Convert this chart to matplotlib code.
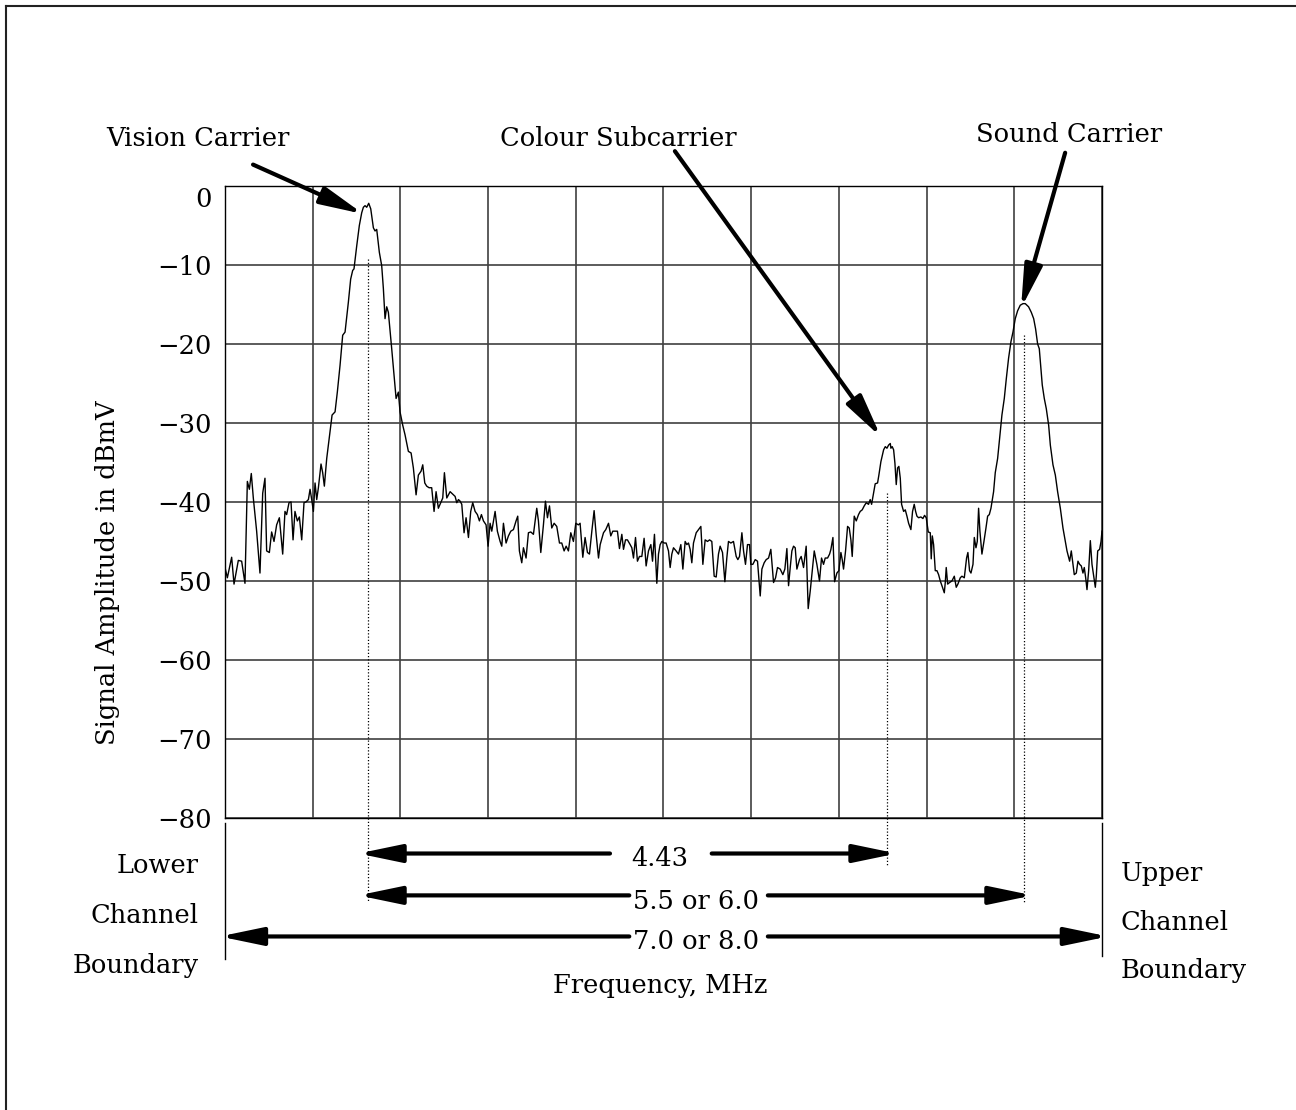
import matplotlib.pyplot as plt
from matplotlib.lines import Line2D
from matplotlib.transforms import ScaledTranslation

# frequency in graticule divisions (0..10 across the channel), amplitude in dBmV
freq1 = [0.000, 0.027, 0.076, 0.103, 0.152, 0.190, 0.228, 0.255, 0.278, 0.300,
         0.323, 0.361, 0.399, 0.430, 0.456, 0.475, 0.506, 0.532, 0.559, 0.589,
         0.620, 0.658, 0.684, 0.703, 0.730, 0.753, 0.776, 0.798, 0.825, 0.848,
         0.875, 0.901, 0.924, 0.951, 0.970, 0.989, 1.008, 1.027, 1.046, 1.065,
         1.095, 1.114, 1.133, 1.160, 1.198, 1.221, 1.255, 1.281, 1.312, 1.342,
         1.369, 1.407, 1.433, 1.456, 1.471, 1.502, 1.532, 1.559, 1.578, 1.597,
         1.616, 1.639, 1.662, 1.692, 1.711, 1.730, 1.760, 1.787, 1.806, 1.825,
         1.844, 1.863, 1.901, 1.951, 1.977, 1.996, 2.027, 2.053, 2.091, 2.122,
         2.148, 2.179, 2.205, 2.236, 2.255, 2.278, 2.300, 2.327, 2.357, 2.384,
         2.407, 2.433, 2.460, 2.483, 2.502, 2.529, 2.567]
amp1 = [-48.3, -49.6, -47.0, -50.4, -47.4, -47.5, -50.3, -37.4, -38.4, -36.4,
        -39.5, -43.7, -49.0, -38.9, -37.0, -46.2, -46.4, -43.8, -45.0, -42.9,
        -42.0, -46.6, -41.2, -41.6, -40.1, -40.0, -44.8, -41.2, -42.4, -41.9,
        -44.8, -40.1, -40.0, -39.7, -38.4, -39.7, -41.2, -37.6, -39.7, -38.2,
        -35.2, -36.3, -38.0, -34.5, -31.1, -29.0, -28.6, -26.1, -22.7, -18.9,
        -18.5, -14.7, -11.8, -10.7, -10.5, -7.6, -5.0, -3.4, -2.7, -2.5,
        -2.7, -2.2, -2.9, -5.3, -5.7, -5.5, -8.4, -10.1, -13.0, -16.8,
        -15.3, -16.0, -20.6, -26.9, -26.1, -28.6, -30.3, -31.5, -33.6, -33.8,
        -35.7, -39.1, -36.6, -36.1, -35.3, -37.6, -38.0, -38.2, -38.2, -41.2,
        -38.7, -40.8, -40.1, -39.5, -36.3, -39.5, -38.7]

freq2 = [2.605, 2.624, 2.643, 2.662, 2.681, 2.700, 2.726, 2.749, 2.776, 2.802,
         2.825, 2.852, 2.878, 2.901, 2.924, 2.947, 2.977, 3.000, 3.023, 3.042,
         3.080, 3.106, 3.137, 3.156, 3.175, 3.205, 3.232, 3.259, 3.289, 3.319,
         3.338, 3.357, 3.384, 3.403, 3.433, 3.460, 3.487, 3.517, 3.555, 3.574,
         3.601, 3.631, 3.654, 3.677, 3.700, 3.726, 3.753, 3.783, 3.814, 3.840,
         3.867, 3.890, 3.916, 3.943, 3.973, 4.000, 4.030, 4.049, 4.080, 4.106,
         4.133, 4.156, 4.183, 4.209, 4.232, 4.259, 4.278, 4.316, 4.342, 4.373,
         4.399, 4.422, 4.449, 4.475, 4.498, 4.525, 4.544, 4.567, 4.589, 4.620,
         4.639, 4.658, 4.681, 4.703, 4.726, 4.753, 4.779, 4.802, 4.829, 4.856,
         4.875, 4.897, 4.924, 4.943, 4.962, 4.981, 5.008, 5.030, 5.057, 5.076]
amp2 = [-39.1, -39.3, -40.1, -39.7, -39.9, -40.3, -43.9, -42.0, -44.5, -41.2,
        -40.1, -41.2, -41.6, -42.4, -41.6, -42.4, -42.9, -45.6, -42.7, -43.7,
        -41.2, -43.7, -45.0, -45.6, -42.7, -45.2, -44.3, -43.7, -43.5, -42.4,
        -41.8, -46.2, -47.7, -45.8, -47.1, -43.9, -43.8, -44.1, -40.8, -42.4,
        -46.4, -42.9, -39.9, -42.0, -40.5, -43.3, -42.7, -43.1, -45.2, -45.2,
        -46.2, -45.6, -46.2, -43.9, -45.0, -42.7, -42.9, -42.7, -47.0, -44.5,
        -46.4, -46.6, -43.7, -41.1, -44.1, -47.1, -45.4, -43.9, -43.5, -42.7,
        -44.3, -43.7, -43.7, -43.7, -45.9, -44.1, -46.0, -44.8, -44.8, -45.4,
        -45.8, -47.1, -44.5, -47.5, -46.9, -46.9, -44.6, -48.1, -46.2, -45.4,
        -47.5, -44.1, -50.3, -46.6, -45.4, -45.0, -45.2, -45.2, -46.2, -48.3]

freq3 = [5.095, 5.114, 5.144, 5.171, 5.198, 5.221, 5.247, 5.266, 5.285, 5.304,
         5.323, 5.342, 5.373, 5.399, 5.426, 5.449, 5.475, 5.502, 5.525, 5.551,
         5.578, 5.601, 5.627, 5.646, 5.673, 5.700, 5.722, 5.741, 5.768, 5.798,
         5.829, 5.848, 5.867, 5.894, 5.913, 5.935, 5.958, 5.981, 5.996, 6.019,
         6.046, 6.072, 6.103, 6.122, 6.148, 6.171, 6.198, 6.224, 6.255, 6.278,
         6.300, 6.331, 6.361, 6.384, 6.407, 6.426, 6.445, 6.464, 6.483, 6.502,
         6.521, 6.551, 6.570, 6.597, 6.627, 6.650, 6.673, 6.692, 6.719, 6.749,
         6.779, 6.802, 6.825, 6.844, 6.871, 6.894, 6.909, 6.932, 6.951, 6.977,
         7.000, 7.023, 7.038, 7.053, 7.076, 7.099, 7.118, 7.137, 7.152, 7.175,
         7.198, 7.224, 7.243, 7.266, 7.289, 7.312, 7.338, 7.357, 7.373, 7.395,
         7.414, 7.441, 7.456, 7.479, 7.510, 7.529, 7.548, 7.567, 7.586]
amp3 = [-46.6, -45.8, -46.2, -46.6, -45.4, -48.5, -45.0, -45.4, -45.2, -46.0,
        -47.7, -45.2, -43.9, -43.5, -43.1, -47.9, -44.8, -45.0, -44.8, -45.0,
        -49.4, -49.5, -46.6, -45.6, -46.4, -50.1, -47.1, -45.0, -45.2, -45.0,
        -46.9, -47.3, -46.9, -43.9, -46.2, -47.9, -45.4, -45.4, -47.9, -47.9,
        -47.3, -47.5, -51.9, -48.5, -47.7, -47.3, -47.1, -46.0, -50.2, -49.6,
        -48.3, -48.5, -49.2, -48.5, -45.9, -50.6, -48.3, -46.2, -45.6, -45.8,
        -48.5, -47.3, -46.9, -48.3, -45.6, -53.5, -51.3, -49.2, -46.2, -47.9,
        -50.0, -47.1, -47.9, -47.1, -47.1, -46.6, -46.0, -44.5, -50.1, -49.0,
        -48.7, -46.4, -47.3, -48.5, -46.2, -43.1, -43.3, -44.8, -46.9, -41.8,
        -42.4, -41.6, -41.2, -41.0, -40.5, -40.1, -40.3, -39.7, -40.3, -38.9,
        -37.7, -37.6, -36.6, -34.9, -33.4, -33.0, -33.2, -32.8, -32.6]

freq4 = [7.593, 7.608, 7.624, 7.639, 7.654, 7.669, 7.684, 7.700, 7.715, 7.738,
         7.757, 7.776, 7.795, 7.821, 7.840, 7.859, 7.875, 7.890, 7.909, 7.935,
         7.958, 7.977, 7.996, 8.019, 8.042, 8.053, 8.065, 8.080, 8.099, 8.118,
         8.137, 8.156, 8.175, 8.202, 8.213, 8.224, 8.240, 8.262, 8.289, 8.316,
         8.338, 8.357, 8.384, 8.403, 8.430, 8.456, 8.471, 8.490, 8.506, 8.529,
         8.544, 8.563, 8.578, 8.593, 8.608, 8.631, 8.654, 8.677, 8.696, 8.715,
         8.734, 8.764, 8.783, 8.810, 8.840, 8.859, 8.886, 8.909, 8.935, 8.962,
         8.985, 9.011, 9.038, 9.068, 9.099, 9.125, 9.163, 9.194, 9.221, 9.243,
         9.266, 9.285, 9.304, 9.319, 9.342, 9.365, 9.392, 9.411, 9.441, 9.468,
         9.494, 9.525, 9.555, 9.582, 9.601, 9.631, 9.650, 9.669, 9.684, 9.707,
         9.726, 9.745, 9.764, 9.783, 9.798, 9.814, 9.829, 9.848, 9.867, 9.886,
         9.905, 9.924, 9.935, 9.951, 9.973, 9.989, 10.000]
amp4 = [-33.2, -33.0, -33.4, -35.1, -37.8, -35.7, -35.5, -37.0, -40.3, -41.2,
        -41.0, -41.8, -42.7, -43.5, -41.2, -40.3, -41.2, -41.8, -42.0, -41.9,
        -42.1, -41.7, -42.0, -43.8, -43.9, -47.2, -44.3, -45.4, -48.7, -48.7,
        -49.2, -50.0, -50.6, -51.5, -50.2, -48.3, -50.4, -50.2, -50.0, -49.4,
        -50.8, -50.4, -49.6, -49.4, -49.6, -47.1, -46.4, -48.7, -49.0, -47.9,
        -44.5, -45.8, -45.0, -40.8, -43.7, -46.6, -45.0, -43.3, -41.8, -41.6,
        -40.8, -38.7, -36.3, -34.5, -31.1, -29.0, -26.9, -24.4, -21.8, -19.7,
        -18.5, -16.8, -15.8, -15.1, -14.9, -14.9, -15.3, -16.0, -16.8, -18.1,
        -20.0, -20.6, -23.1, -25.2, -26.9, -28.2, -30.3, -32.8, -35.3, -36.6,
        -38.7, -40.8, -43.3, -45.0, -46.2, -47.5, -46.2, -47.9, -49.2, -49.0,
        -47.5, -47.9, -48.1, -49.0, -48.3, -49.6, -51.1, -48.7, -44.9, -47.9,
        -49.4, -50.8, -49.4, -46.2, -46.0, -45.0, -43.7]

freq = freq1 + freq2 + freq3 + freq4
amp = amp1 + amp2 + amp3 + amp4

db_ticks = [0, -10, -20, -30, -40, -50, -60, -70, -80]
db_labels = ['0', '\u221210', '\u221220', '\u221230', '\u221240',
             '\u221250', '\u221260', '\u221270', '\u221280']

# carrier positions (divisions) and where their dotted markers start (dB)
vision_x, sound_x, colour_x = 1.63, 9.11, 7.55
vision_mark, sound_mark, colour_mark = -9.3, -18.9, -38.9

plt.rcParams['font.family'] = ['DejaVu Serif']
plt.rcParams['font.size'] = 18.5

fig = plt.figure(figsize=(12.96, 11.10), dpi=100)
ax = fig.add_axes([0.1736, 0.2631, 0.6767, 0.5694])

ax.plot(freq, amp, color='black', lw=1)
ax.set_xlim(0, 10)
ax.set_ylim(-80, 0)
ax.set_xticks(range(11))
ax.set_xticklabels([])
ax.set_yticks(db_ticks)
ax.set_yticklabels(db_labels)
ax.tick_params(length=0, pad=9.5)
ax.grid(True, color='#404040', lw=1.2)
for sp in ax.spines.values():
    sp.set_color('black')
    sp.set_linewidth(1)

# the "0" label sits below its line in the original
lab0 = ax.get_yticklabels()[0]
lab0.set_transform(lab0.get_transform() + ScaledTranslation(0, -0.11, fig.dpi_scale_trans))

fig.text(0.0833, 0.4838, 'Signal Amplitude in dBmV', rotation=90,
         ha='center', va='center')

# dotted carrier markers
dot = dict(color='black', lw=0.9, ls=(0, (1, 1.6)), clip_on=False)
ax.plot([vision_x, vision_x], [vision_mark, -90.6], **dot)
ax.plot([colour_x, colour_x], [colour_mark, -86.0], **dot)
ax.plot([sound_x, sound_x], [sound_mark, -90.8], **dot)

# channel boundary ticks
ax.plot([0, 0], [-80.6, -97.9], color='black', lw=1, clip_on=False)
ax.plot([10, 10], [-80.6, -97.5], color='black', lw=1, clip_on=False)


def arrow(x0, y0, x1, y1):
    ax.annotate('', xy=(x1, y1), xytext=(x0, y0), annotation_clip=False,
                arrowprops=dict(arrowstyle='-|>,head_length=1.3,head_width=0.27',
                                lw=3, color='black', shrinkA=0, shrinkB=0,
                                mutation_scale=20))


# callouts
ax.text(-0.31, 5.0, 'Vision Carrier', ha='center', va='baseline')
ax.text(4.48, 5.0, 'Colour Subcarrier', ha='center', va='baseline')
ax.text(9.62, 5.6, 'Sound Carrier', ha='center', va='baseline')
arrow(0.32, 2.7, 1.578, -3.56)
arrow(5.13, 4.4, 7.481, -31.8)
arrow(9.58, 4.2, 9.077, -15.5)

# spacing arrows below the graticule
arrow(4.39, -84.5, 1.52, -84.5)
arrow(5.55, -84.5, 7.66, -84.5)
arrow(4.61, -89.8, 1.52, -89.8)
arrow(6.19, -89.8, 9.21, -89.8)
arrow(4.61, -95.0, -0.06, -95.0)
arrow(6.19, -95.0, 10.07, -95.0)
ax.text(4.96, -86.1, '4.43', ha='center', va='baseline')
ax.text(5.37, -91.5, '5.5 or 6.0', ha='center', va='baseline')
ax.text(5.37, -96.6, '7.0 or 8.0', ha='center', va='baseline')
ax.text(4.96, -102.1, 'Frequency, MHz', ha='center', va='baseline')

ax.text(-0.30, -87.0, 'Lower', ha='right', va='baseline')
ax.text(-0.30, -93.3, 'Channel', ha='right', va='baseline')
ax.text(-0.30, -99.6, 'Boundary', ha='right', va='baseline')
ax.text(10.21, -88.0, 'Upper', ha='left', va='baseline')
ax.text(10.21, -94.2, 'Channel', ha='left', va='baseline')
ax.text(10.21, -100.2, 'Boundary', ha='left', va='baseline')

# page frame (top and left edges only)
fig.add_artist(Line2D([0.005, 1], [0.995, 0.995], transform=fig.transFigure,
                      color='#222222', lw=1.5))
fig.add_artist(Line2D([0.005, 0.005], [0, 0.995], transform=fig.transFigure,
                      color='#222222', lw=1.5))

fig.savefig('out.png', dpi=100)
